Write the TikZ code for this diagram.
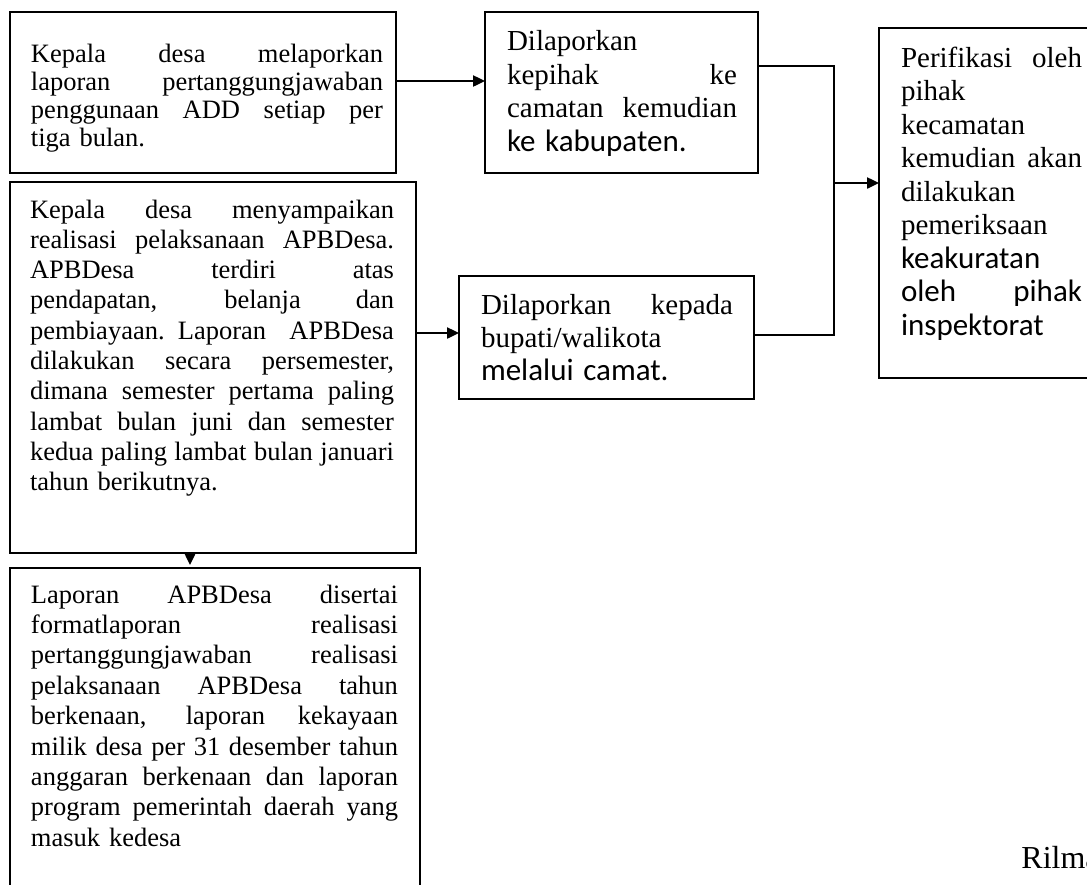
\documentclass[tikz,border=0pt]{standalone}
\usepackage{fontspec}
\setmainfont{Liberation Serif}
\newfontfamily\calibri{Carlito}
\usetikzlibrary{arrows.meta,calc,fit}
\setlength\parindent{0pt}
\newlength\jw
\newcommand\jl[1]{\leavevmode\hbox to \jw{\spaceskip=\fontdimen2\font plus 1fil\relax #1}}
\newcommand\cb[1]{{\calibri\fontsize{15.5pt}{16.75pt}\selectfont #1}}
\begin{document}
\begin{tikzpicture}[x=0.5pt,y=-0.5pt,
  box/.style={draw, line width=1pt, inner sep=0pt, outer sep=0pt},
  txt/.style={anchor=base west, inner sep=0pt, outer sep=0pt, align=left},
  small/.style={font=\fontsize{13.25pt}{15.15pt}\selectfont},
  big/.style={font=\fontsize{14.5pt}{16.75pt}\selectfont},
  conn/.style={line width=1pt},
  arr/.style={line width=1.2pt, -{Triangle[length=6pt,width=5.5pt]}}]
\useasboundingbox (0,0) rectangle (1087,884);
\clip (0,0) rectangle (1087,884);
\fill[white] (0,0) rectangle (1087,884);

% boxes
\node[box, fit={(10,12) (396,173)}] (A) {};
\node[box, fit={(10,182) (416,553)}] (B) {};
\node[box, fit={(10,568) (420,900)}] (C) {};
\node[box, fit={(485,12) (758,173)}] (D) {};
\node[box, fit={(459,276) (754,399)}] (E) {};
\node[box, fit={(879,28) (1100,378)}] (F) {};

% texts
\node[txt, text width=176pt, font=\fontsize{13.25pt}{14.15pt}\selectfont] (tA) at (31,62)
 {\setlength\jw{176pt}\jl{Kepala desa melaporkan}\\\jl{laporan pertanggungjawaban}\\\jl{penggunaan ADD setiap per}\\tiga bulan.};

\node[txt, small, text width=182pt] (tB) at (30,218)
 {\setlength\jw{182pt}\jl{Kepala desa menyampaikan}\\
  \jl{realisasi pelaksanaan APBDesa.}\\
  \jl{APBDesa terdiri atas}\\
  \jl{pendapatan, belanja dan}\\
  \jl{pembiayaan. Laporan APBDesa}\\
  \jl{dilakukan secara persemester,}\\
  \jl{dimana semester pertama paling}\\
  \jl{lambat bulan juni dan semester}\\
  \jl{kedua paling lambat bulan januari}\\
  tahun berikutnya.};

\node[txt, font=\fontsize{13.25pt}{15.2pt}\selectfont, text width=183.5pt] (tC) at (31,603)
 {\setlength\jw{183.5pt}\jl{Laporan APBDesa disertai}\\
  \jl{formatlaporan realisasi}\\
  \jl{pertanggungjawaban realisasi}\\
  \jl{pelaksanaan APBDesa tahun}\\
  \jl{berkenaan, laporan kekayaan}\\
  \jl{milik desa per 31 desember tahun}\\
  \jl{anggaran berkenaan dan laporan}\\
  \jl{program pemerintah daerah yang}\\
  masuk kedesa};

\node[txt, big, text width=115pt] (tD) at (507,50.5)
 {\setlength\jw{115pt}Dilaporkan\\\jl{kepihak ke}\\\jl{camatan kemudian}\\\cb{ke kabupaten.}};

\node[txt, font=\fontsize{14.5pt}{16.5pt}\selectfont, text width=126pt] (tE) at (481,314)
 {\setlength\jw{126pt}\jl{Dilaporkan kepada}\\bupati/walikota\\\cb{melalui camat.}};

\node[txt, big, text width=90.5pt] (tF) at (901,67)
 {\setlength\jw{90.5pt}\jl{Perifikasi oleh}\\pihak\\kecamatan\\\jl{kemudian akan}\\dilakukan\\pemeriksaan\\\cb{keakuratan}\\\cb{\jl{oleh pihak}}\\\cb{inspektorat}};

\node[anchor=base west, inner sep=0pt, font=\fontsize{16pt}{19pt}\selectfont] (sig) at (1021,868) {Rilma};

% connectors
\coordinate (m) at (834,183);
\draw[arr] ($(A.north east)+(0,69)$) -- ($(D.north west)+(0,69)$);
\draw[arr] ($(B.north east)+(0,151)$) -- ($(E.north west)+(0,57)$);
\draw[arr] ($(B.south west)+(180,0)$) -- ($(C.north west)+(180,-3)$);
\draw[conn] ($(D.north east)+(0,54)$) -| (m);
\draw[conn] ($(E.north east)+(0,59)$) -| (m);
\draw[arr] (m) -- (m -| F.west);
\end{tikzpicture}
\end{document}
